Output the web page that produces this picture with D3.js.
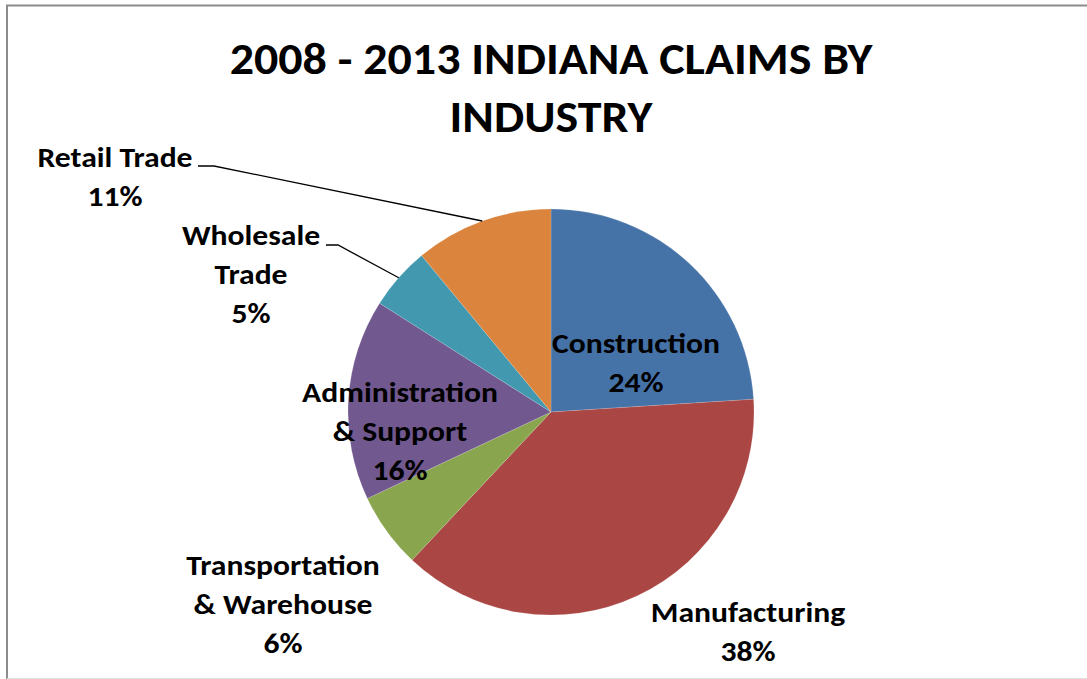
<!DOCTYPE html>
<html>
<head>
<meta charset="utf-8">
<script src="https://cdn.jsdelivr.net/npm/d3@7"></script>
<style>
  html, body { margin: 0; padding: 0; background: #fff; }
  svg { display: block; }
  text { font-family: Calibri, Carlito, Lato, "Noto Sans", sans-serif; font-weight: bold; fill: #000; }
</style>
</head>
<body>
<svg id="chart" width="1087" height="679"></svg>
<script>
// Indiana claims by industry, 2008-2013 (percent of total)
const categories = ["Construction", "Manufacturing", "Transportation & Warehouse",
                    "Administration & Support", "Wholesale Trade", "Retail Trade"];
const values = [24, 38, 6, 16, 5, 11];
const labelLines = [
  ["Construction"],
  ["Manufacturing"],
  ["Transportation", "& Warehouse"],
  ["Administration", "& Support"],
  ["Wholesale", "Trade"],
  ["Retail Trade"]
];
const colors = ["#4572A7", "#AA4643", "#89A54E", "#71588F", "#4198AF", "#DB843D"];
const titleLines = ["2008 - 2013 INDIANA CLAIMS BY", "INDUSTRY"];

// layout
const W = 1087, H = 679;
const cx = 551, cy = 412, R = 203;
const labelFont = 28, labelStretch = 1.13, lineGap = 39;
const titleFont = 44, titleStretch = 1.09;
// label anchor (center x, first baseline y) relative to the pie centre
const labelPos = [
  [85, -59], [197, 210], [-268, 163], [-151, -10], [-300, -167], [-436, -245]
];
// where leader lines leave the label (only for outside labels)
const leaderStart = {
  4: [-225, -167, -213],   // x0, y, x1 (horizontal stub), then to the slice edge
  5: [-353, -246, -337]
};

const svg = d3.select("#chart");

// chart frame
svg.append("path").attr("d", `M7,${H} V5.5 H${W}`)
  .attr("fill", "none").attr("stroke", "#8c8c8c").attr("stroke-width", 2);
svg.append("line").attr("x1", 7).attr("x2", W).attr("y1", 678.5).attr("y2", 678.5)
  .attr("stroke", "#e0e0e0").attr("stroke-width", 1);

// title
titleLines.forEach((t, i) => {
  svg.append("text")
    .attr("transform", `translate(${cx},${74 + i * 58}) scale(${titleStretch},1)`)
    .attr("text-anchor", "middle")
    .attr("font-size", titleFont)
    .text(t);
});

const pie = d3.pie().sort(null).value(d => d)(values);
const arc = d3.arc().innerRadius(0).outerRadius(R);

const g = svg.append("g").attr("transform", `translate(${cx},${cy})`);
g.selectAll("path.slice")
  .data(pie)
  .join("path")
  .attr("class", "slice")
  .attr("d", arc)
  .attr("fill", (d, i) => colors[i])
  .attr("stroke", "#ffffff")
  .attr("stroke-opacity", 0.25)
  .attr("stroke-width", 0.6);

// leader lines
Object.keys(leaderStart).forEach(k => {
  const i = +k;
  const [x0, y, x1] = leaderStart[i];
  const a = (pie[i].startAngle + pie[i].endAngle) / 2;
  const ex = R * Math.sin(a), ey = -R * Math.cos(a);
  g.append("path")
    .attr("d", `M${x0},${y} H${x1} L${ex},${ey}`)
    .attr("fill", "none").attr("stroke", "#000").attr("stroke-width", 1.3);
});

// data labels
pie.forEach((d, i) => {
  const lines = labelLines[i].concat([values[i] + "%"]);
  const t = g.append("text")
    .attr("transform", `translate(${labelPos[i][0]},${labelPos[i][1]}) scale(${labelStretch},1)`)
    .attr("text-anchor", "middle")
    .attr("font-size", labelFont);
  lines.forEach((ln, j) => {
    t.append("tspan")
      .attr("x", 0)
      .attr("y", j * lineGap)
      .text(ln);
  });
});
</script>
</body>
</html>
